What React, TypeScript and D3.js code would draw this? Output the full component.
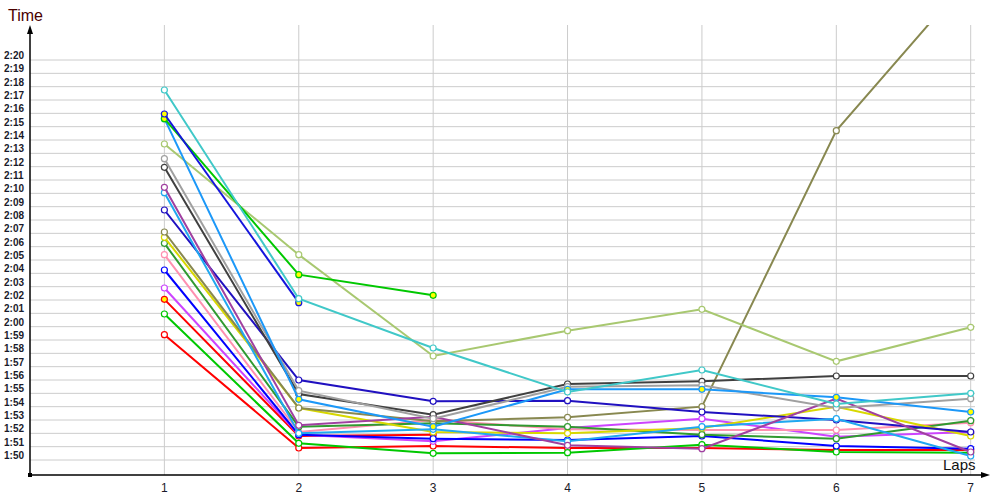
import React from "react";
import * as d3 from "d3";

const laps = [1, 2, 3, 4, 5, 6, 7];
const yTickSeconds = d3.range(110, 141);

// lap times in seconds (null = no lap)
const turquoise = [137.75, 122.1, 118.4, 115.1, 116.75, 114.2, 115.0];
const royalBlueY = [135.95, 121.8, null, null, null, null, null];
const limeY = [135.6, 123.9, 122.35, null, null, null, null];
const dodgerY = [135.6, 114.55, 112.5, 115.3, 115.3, 114.7, 113.6];
const paleGreen = [133.7, 125.4, 117.8, 119.7, 121.3, 117.4, 119.95];
const gray = [132.6, 115.2, 113.1, 115.5, 115.6, 113.9, 114.6];
const charcoal = [131.95, 114.95, 113.4, 115.7, 115.9, 116.3, 116.3];
const purple = [130.45, 112.6, 113.25, 111.1, 110.85, 114.6, 110.6];
const skyBlue = [130.05, 112.0, 112.3, 111.4, 112.5, 113.1, 110.3];
const indigo = [128.75, 116.0, 114.4, 114.45, 113.6, 113.0, 112.1];
const olive = [127.1, 113.9, 112.9, 113.2, 114.0, 134.7, 146.3];
const yellow = [126.7, 113.9, 112.1, 112.0, 112.4, 114.0, 111.8];
const forest = [126.25, 112.5, 112.75, 112.5, 111.9, 111.6, 112.95];
const pink = [125.4, 112.1, 113.0, 112.3, 112.25, 112.25, 112.8];
const blue = [124.25, 111.9, 111.6, 111.5, 111.8, 111.05, 110.85];
const violet = [122.9, 111.9, 111.4, 112.4, 113.1, 111.75, 112.1];
const redY = [122.05, 111.8, 111.9, null, null, null, null];
const green = [120.95, 111.25, 110.5, 110.55, 111.15, 110.6, 110.55];
const red = [119.4, 110.9, 111.05, 110.9, 110.9, 110.75, 110.75];

const seriesList = [
  { values: red, color: "#ff0000", fill: "#ffffff" },
  { values: green, color: "#00c800", fill: "#ffffff" },
  { values: redY, color: "#ff0000", fill: "#ffff00" },
  { values: violet, color: "#cc44ff", fill: "#ffffff" },
  { values: blue, color: "#0000ff", fill: "#ffffff" },
  { values: pink, color: "#ff90b0", fill: "#ffffff" },
  { values: forest, color: "#309a30", fill: "#ffffff" },
  { values: yellow, color: "#d8d800", fill: "#ffffff" },
  { values: olive, color: "#888850", fill: "#ffffff" },
  { values: indigo, color: "#2010c0", fill: "#ffffff" },
  { values: skyBlue, color: "#20a8f0", fill: "#ffffff" },
  { values: purple, color: "#a040a0", fill: "#ffffff" },
  { values: charcoal, color: "#404040", fill: "#ffffff" },
  { values: gray, color: "#a0a0a0", fill: "#ffffff" },
  { values: paleGreen, color: "#a8c870", fill: "#ffffff" },
  { values: dodgerY, color: "#1c98f8", fill: "#ffff00" },
  { values: limeY, color: "#00c800", fill: "#ffff00" },
  { values: royalBlueY, color: "#1414dc", fill: "#ffff00" },
  { values: turquoise, color: "#40c8c8", fill: "#ffffff" },
];

const fmt = (s: number) => {
  const m = Math.floor(s / 60);
  const r = Math.round(s - m * 60);
  return `${m}:${r < 10 ? "0" : ""}${r}`;
};

export default function App() {
  const W = 1000;
  const H = 500;
  const x = d3.scaleLinear().domain([0, 7]).range([30, 970.7]);
  const y = d3.scaleLinear().domain([110, 140]).range([460, 60]);
  const top = 25;
  const bottom = 475;
  const left = 30;
  const right = 975;

  const line = d3
    .line<number | null>()
    .defined((d) => d != null)
    .x((_, i) => x(laps[i]))
    .y((d) => y(d as number));

  return (
    <svg
      width={W}
      height={H}
      style={{ position: "absolute", left: 0, top: 0, background: "#fff" }}
      fontFamily="Liberation Sans, Arial, sans-serif"
    >
      <defs>
        <clipPath id="plot">
          <rect x={left} y={top} width={W - left} height={bottom - top} />
        </clipPath>
      </defs>
      {/* horizontal grid */}
      {yTickSeconds.map((s) => (
        <line key={"h" + s} x1={left} x2={right} y1={y(s)} y2={y(s)} stroke="#cccccc" strokeWidth={1} />
      ))}
      {/* vertical grid */}
      {laps.map((l) => (
        <line key={"v" + l} x1={x(l)} x2={x(l)} y1={top} y2={bottom} stroke="#cccccc" strokeWidth={1} />
      ))}
      {/* y labels */}
      {yTickSeconds.map((s) => (
        <text key={"t" + s} x={4} y={y(s) - 1} fontSize={10} fill="#1a1a2a" fontWeight="bold">
          {fmt(s)}
        </text>
      ))}
      {/* x labels */}
      {laps.map((l) => (
        <text key={"xl" + l} x={x(l)} y={492} fontSize={12} textAnchor="middle" fill="#1a1a2a">
          {l}
        </text>
      ))}
      {/* series */}
      <g clipPath="url(#plot)">
        {seriesList.map((s, i) => (
          <g key={"s" + i}>
            <path d={line(s.values) || ""} fill="none" stroke={s.color} strokeWidth={2} />
            {s.values.map((v, j) =>
              v == null ? null : (
                <circle key={j} cx={x(laps[j])} cy={y(v)} r={3} fill={s.fill} stroke={s.color} strokeWidth={1.2} />
              )
            )}
          </g>
        ))}
      </g>
      {/* axes */}
      <line x1={left} x2={left} y1={bottom} y2={top + 6} stroke="#000" strokeWidth={1.5} />
      <path d={`M${left},${top} L${left - 3},${top + 9} L${left + 3},${top + 9} Z`} fill="#000" />
      <line x1={left} x2={985} y1={bottom} y2={bottom} stroke="#000" strokeWidth={1.5} />
      <path d={`M${990},${bottom} L${981},${bottom - 3} L${981},${bottom + 3} Z`} fill="#000" />
      <rect x={left - 2} y={bottom - 2} width={4} height={4} fill="#000" />
      <text x={8} y={21} fontSize={16} fill="#4a0000">
        Time
      </text>
      <text x={943} y={470} fontSize={15} fill="#111">
        Laps
      </text>
    </svg>
  );
}
